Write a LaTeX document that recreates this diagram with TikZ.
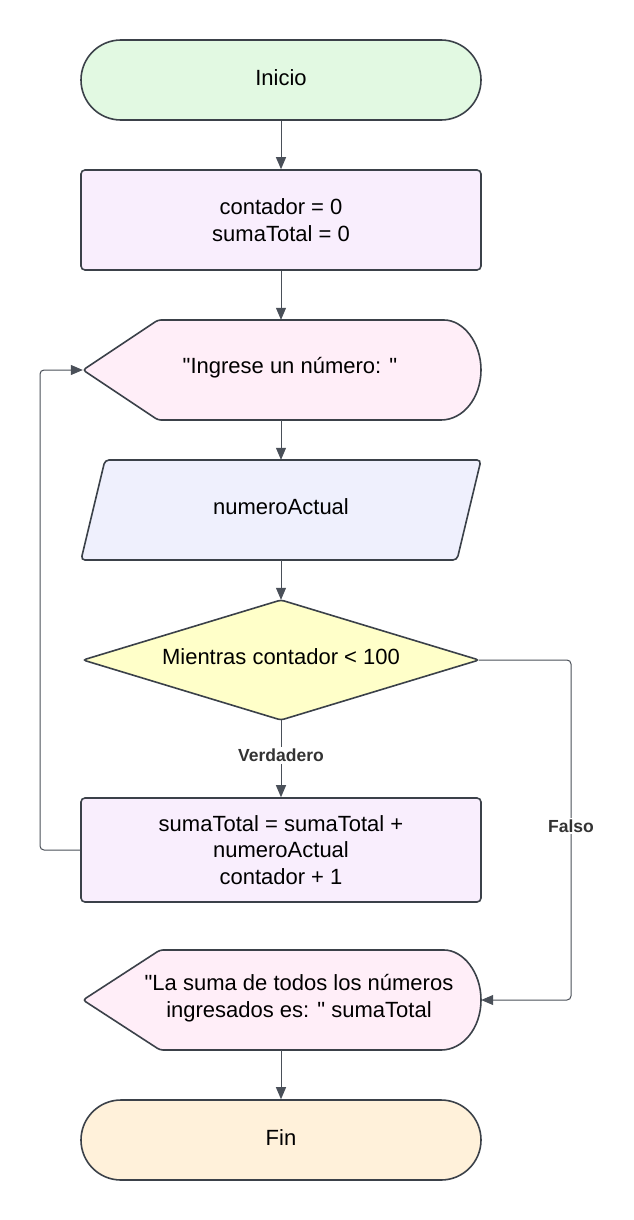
\documentclass[tikz,border=0pt]{standalone}
\usepackage{fontspec}
\setmainfont{Liberation Sans}[Ligatures=TeXOff]
\usetikzlibrary{shapes.misc,arrows.meta}
\definecolor{strokec}{HTML}{3B4149}
\definecolor{linec}{HTML}{4A5059}
\definecolor{cgreen}{HTML}{E2F9E2}
\definecolor{clav}{HTML}{F9EEFD}
\definecolor{cpink}{HTML}{FFEEF8}
\definecolor{cblue}{HTML}{EFF0FD}
\definecolor{cyellow}{HTML}{FFFFC9}
\definecolor{corange}{HTML}{FFF1DA}
\definecolor{labc}{HTML}{333333}
\tikzset{
  txt/.style={font=\fontsize{22}{26.5}\selectfont, align=center, text=black},
  shp/.style={draw=strokec, line width=1.6pt},
  term/.style={shp, txt, rounded rectangle, minimum width=400pt, minimum height=80pt, inner sep=0pt},
  proc/.style={shp, txt, rectangle, rounded corners=4pt, minimum width=400pt, inner sep=0pt},
  ghost/.style={rectangle, inner sep=0pt, draw=none},
  arr/.style={draw=linec, line width=1pt, -{Triangle[length=12pt,width=10pt]}},
  lbl/.style={font=\bfseries\fontsize{17.5}{21}\selectfont, text=labc, fill=white, inner sep=2pt}
}
\begin{document}
\begin{tikzpicture}[x=1pt,y=-1pt]
\useasboundingbox (0,0) rectangle (634,1220);
\fill[white] (0,0) rectangle (634,1220);

% Inicio
\node[term, fill=cgreen] (inicio) at (281,80) {};
\node[txt] (iniciot) at (281,78) {Inicio};

% init
\node[proc, fill=clav, minimum height=100pt] (init) at (281,220) {contador = 0\\sumaTotal = 0};

% display 1
\filldraw[shp, fill=cpink, rounded corners=3pt] (83,370) -- (158,320) -- (441,320)
  [sharp corners] .. controls (463,320) and (481,342) .. (481,370)
  .. controls (481,398) and (463,420) .. (441,420) [rounded corners=3pt] -- (158,420) -- cycle;
\node[ghost, minimum width=398pt, minimum height=100pt] (disp1) at (282,370) {};
\node[txt] (disp1t) at (290,368) {"Ingrese un número: "};

% parallelogram
\filldraw[shp, fill=cblue, rounded corners=4pt] (105,460) -- (481,460) -- (457,560) -- (81,560) -- cycle;
\node[ghost, minimum width=400pt, minimum height=100pt] (inp) at (281,510) {};
\node[txt] (inpt) at (281,507) {numeroActual};

% diamond
\filldraw[shp, fill=cyellow, rounded corners=3pt] (281,600) -- (479,660) -- (281,720) -- (83,660) -- cycle;
\node[ghost, minimum width=396pt, minimum height=120pt] (dia) at (281,660) {};
\node[txt] (diat) at (281,657) {Mientras contador < 100};

% process 2
\node[proc, fill=clav, minimum height=104pt] (proc2) at (281,850) {sumaTotal = sumaTotal +\\numeroActual\\contador + 1};

% display 2
\filldraw[shp, fill=cpink, rounded corners=3pt] (83,1000) -- (160,950) -- (441,950)
  [sharp corners] .. controls (463,950) and (481,972) .. (481,1000)
  .. controls (481,1028) and (463,1050) .. (441,1050) [rounded corners=3pt] -- (160,1050) -- cycle;
\node[ghost, minimum width=398pt, minimum height=100pt] (disp2) at (282,1000) {};
\node[txt] (disp2t) at (299,998) {"La suma de todos los números\\ingresados es: " sumaTotal};

% Fin
\node[term, fill=corange] (fin) at (281,1140) {};
\node[txt] (fint) at (281,1138) {Fin};

% connectors
\draw[arr] (inicio.south) -- (inicio.south |- init.north);
\draw[arr] (init.south) -- (init.south |- disp1.north);
\draw[arr] (init.south |- disp1.south) -- (init.south |- inp.north);
\draw[arr] (init.south |- inp.south) -- (init.south |- dia.north);
\draw[arr] (init.south |- dia.south) -- node[lbl, pos=0.46] {Verdadero} (proc2.north);
\draw[arr, rounded corners=4pt] (proc2.west) -- (40,850) -- (40,370) -- (disp1.west);
\draw[arr, rounded corners=4pt] (dia.east) -- (571,660) -- (571,1000) -- (disp2.east);
\node[lbl] (falso) at (571,826) {Falso};
\draw[arr] (init.south |- disp2.south) -- (fin.north);
\end{tikzpicture}
\end{document}
